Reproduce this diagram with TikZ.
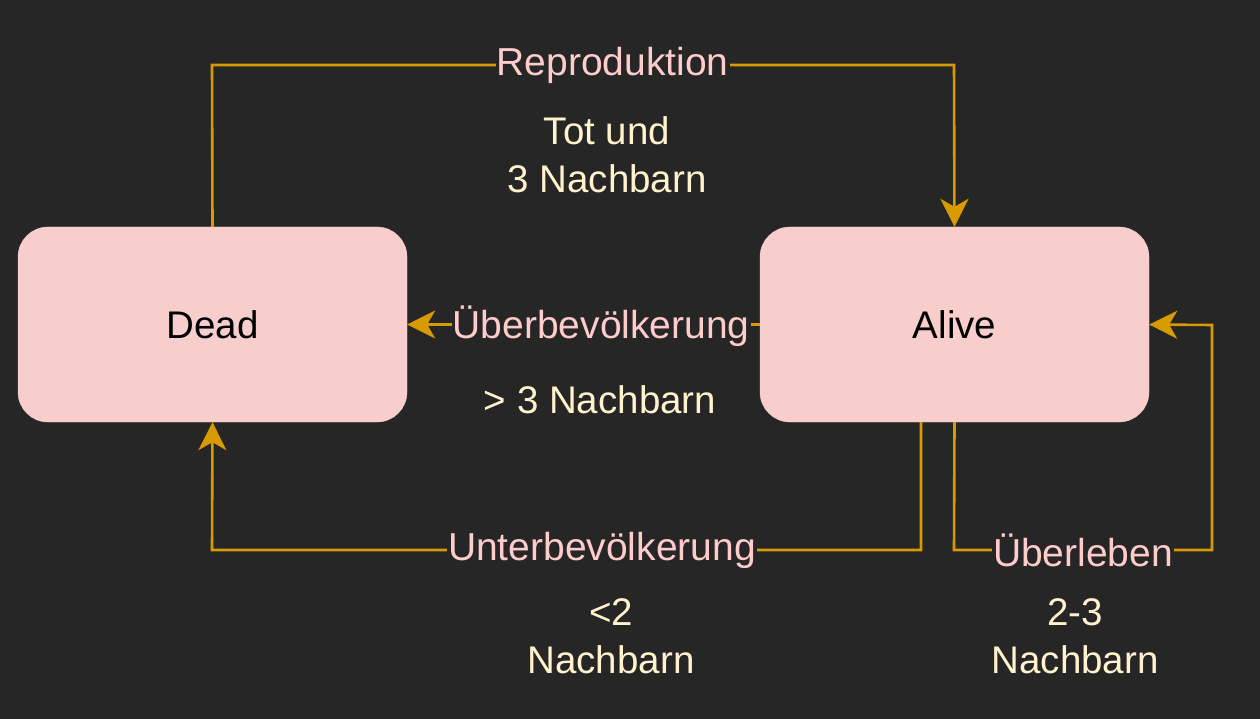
\documentclass[tikz,border=0pt]{standalone}
\usepackage{fontspec}
\setmainfont{Liberation Sans}
\usetikzlibrary{arrows.meta}
\definecolor{bg}{HTML}{262626}
\definecolor{boxfill}{HTML}{F8CECC}
\definecolor{edge}{HTML}{D79B00}
\definecolor{lbl}{HTML}{FFCCCC}
\definecolor{cond}{HTML}{FFF2CC}
\tikzset{
  statebox/.style={draw=boxfill, fill=boxfill, rounded corners=30pt, minimum width=389pt, minimum height=195pt, inner sep=0pt, font=\fontsize{38.5pt}{46pt}\selectfont, text=black},
  trans/.style={draw=edge, line width=2.6pt, -{Stealth[length=28pt, width=28pt, inset=8pt]}},
  elabel/.style={fill=bg, text=lbl, inner sep=1pt, font=\fontsize{39pt}{46pt}\selectfont},
  condtext/.style={text=cond, align=center, font=\fontsize{38.5pt}{48pt}\selectfont},
}
\begin{document}
\begin{tikzpicture}[x=1pt, y=-1pt]
\fill[bg] (0,0) rectangle (1260,719);
\useasboundingbox (0,0) rectangle (1260,719);
\node[statebox] (dead) at (212.5,324.5) {Dead};
\node[statebox] (alive) at (954.5,324.5) {Alive};
\coordinate (r1) at (212,65);
\coordinate (r2) at (954,65);
\coordinate (u1) at (921,550);
\coordinate (u2) at (212,550);
\coordinate (s1) at (954,550);
\coordinate (s2) at (1212,550);
\coordinate (s3) at (1212,325);
% Reproduktion
\draw[trans] (dead.north) -- (r1) -- node[elabel, pos=0.54] (lrep) {Reproduktion} (r2) -- (alive.north);
% Ueberbevoelkerung
\draw[trans] (alive.west) -- node[elabel, pos=0.45, yshift=-2pt] (lueb) {Überbevölkerung} (dead.east);
% Unterbevoelkerung
\draw[trans] (alive.south -| u1) -- (u1) -- node[elabel, pos=0.45] (lunt) {Unterbevölkerung} (u2) -- (dead.south);
% Ueberleben
\draw[trans] (alive.south) -- (s1) -- node[elabel, pos=0.5] (lleb) {Überleben} (s2) -- (s3) -- (alive.east);
% conditions
\node[condtext] (c1) at (607,155) {Tot und\\3 Nachbarn};
\node[condtext] (c2) at (600,400) {> 3 Nachbarn};
\node[condtext] (c3) at (611,636) {<2\\Nachbarn};
\node[condtext] (c4) at (1075,636) {2-3\\Nachbarn};
\end{tikzpicture}
\end{document}
